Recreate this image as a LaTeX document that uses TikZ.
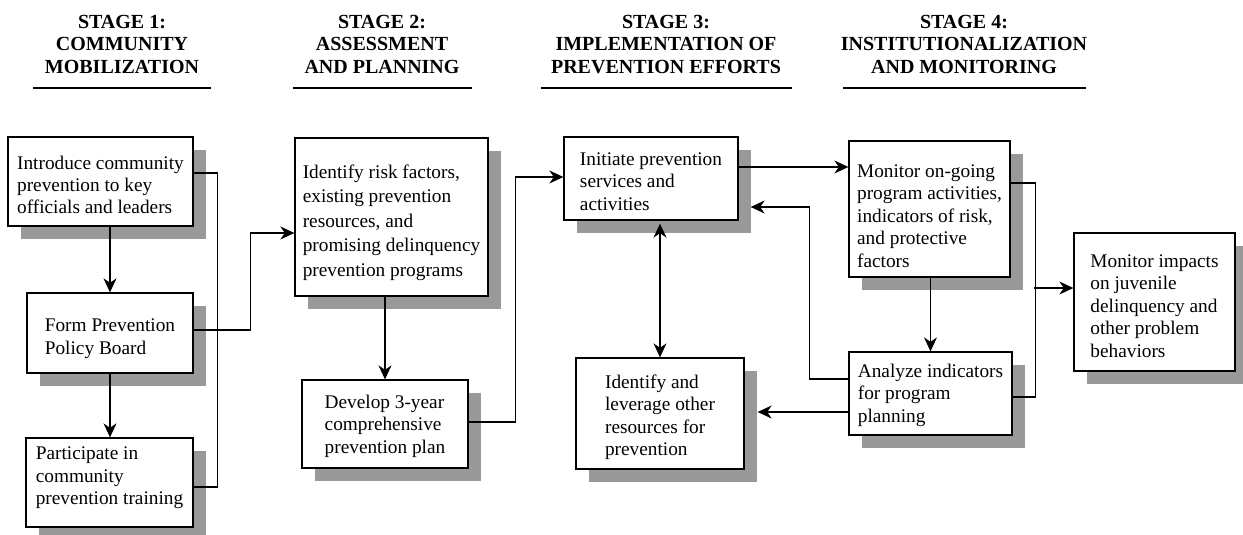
\documentclass[tikz,border=0pt]{standalone}
\usepackage{fontspec}
\setmainfont{Liberation Serif}
\usetikzlibrary{arrows.meta,calc}
\definecolor{shadowgray}{RGB}{153,153,153}
% push the text block of a box down (positive) or up (negative) by #1 pt
\newcommand{\dn}[1]{\rule{0pt}{\dimexpr 13.2pt+2\dimexpr #1pt\relax\relax}}
\newcommand{\upby}[1]{\rule[-\dimexpr 4.2pt+2\dimexpr #1pt\relax\relax]{0pt}{0pt}}
\begin{document}
\begin{tikzpicture}[x=1pt,y=-1pt,
  box/.style={draw=black, line width=1.3pt, fill=white, inner sep=0pt, align=left,
    font=\fontsize{19.3}{22.5}\selectfont,
    preaction={fill=shadowgray, draw=none, transform canvas={xshift=13pt,yshift=-13pt}}},
  head/.style={font=\fontsize{20}{22.5}\selectfont\bfseries, align=center, anchor=north, inner sep=0pt},
  conn/.style={line width=1.1pt},
  tip/.tip={Stealth[length=14pt,width=13pt,inset=4.5pt]},
  arr/.style={conn, -tip},
  darr/.style={conn, tip-tip},
]
\useasboundingbox (0,0) rectangle (1243,535);

% headers
\node[head] (h1) at (122,15) {STAGE 1:\\COMMUNITY\\MOBILIZATION};
\node[head] (h2) at (382,15) {STAGE 2:\\ASSESSMENT\\AND PLANNING};
\node[head] (h3) at (666,15) {STAGE 3:\\IMPLEMENTATION OF\\PREVENTION EFFORTS};
\node[head] (h4) at (964,15) {STAGE 4:\\INSTITUTIONALIZATION\\AND MONITORING};
\draw[conn] (33,88) -- (211,88);
\draw[conn] (293,88) -- (472,88);
\draw[conn] (541,88) -- (792,88);
\draw[conn] (843,88) -- (1086,88);

% boxes
\node[box, font=\fontsize{19.3}{22}\selectfont, minimum width=185pt, minimum height=89pt] (A) at (100.5,181.5) {\dn{3}Introduce community\\prevention to key\\officials and leaders};
\node[box, minimum width=166pt, minimum height=80pt] (B) at (110,333) {\dn{5.5}Form Prevention\\Policy Board};
\node[box, minimum width=167pt, minimum height=89pt] (C) at (109.5,482.5) {Participate in\\community\\prevention training\upby{4.5}};
\node[box, font=\fontsize{19.3}{24.5}\selectfont, minimum width=193pt, minimum height=158pt] (D) at (391.5,217) {\dn{5.5}Identify risk factors,\\existing prevention\\resources, and\\promising delinquency\\prevention programs};
\node[box, minimum width=166pt, minimum height=88pt] (E) at (385,424) {\dn{2}Develop 3-year\\comprehensive\\prevention plan};
\node[box, minimum width=174pt, minimum height=83pt] (F) at (651,178.5) {\dn{2.5}Initiate prevention\\services and\\activities};
\node[box, minimum width=168pt, minimum height=111pt] (G) at (660,413.5) {\dn{4}Identify and\\leverage other\\resources for\\prevention};
\node[box, minimum width=161pt, minimum height=136pt] (H) at (929.5,209) {\dn{6.5}Monitor on-going\\program activities,\\indicators of risk,\\and protective\\factors};
\node[box, minimum width=163pt, minimum height=83pt] (I) at (930.5,393.5) {\dn{1.5}Analyze indicators\\for program\\planning};
\node[box, minimum width=161pt, minimum height=138pt] (J) at (1154.5,302) {\dn{3.5}Monitor impacts\\on juvenile\\delinquency and\\other problem\\behaviors};

% stage 1 connectors
\draw[arr] (A.south -| B.north) -- (B.north);
\draw[arr] (B.south) -- (B.south |- C.north);
\draw[conn] ($(A.east)+(0,-8.5)$) -- ++(24,0) |- ($(C.east)+(0,4.5)$);
\draw[arr] ($(B.east)+(0,-3)$) -- ++(57,0) |- ($(D.west)+(0,16)$);

% stage 2 connectors
\draw[arr] (D.south -| E.north) -- (E.north);
\draw[arr] ($(E.east)+(0,-2)$) -- ++(47,0) |- ($(F.west)+(0,-1.5)$);

% stage 3 connectors
\draw[darr] ($(F.south -| G.north)+(0,3)$) -- (G.north);
\draw[arr] ($(F.east)+(0,-11.5)$) -- ($(H.west)+(0,-42)$);

% stage 4 connectors
\draw[arr] (H.south -| I.north) -- (I.north);
\draw[conn] ($(H.east)+(0,-26)$) -- ++(25,0) |- ($(I.east)+(0,3.5)$);
\draw[arr] ($(J.west)+(-39,-14)$) -- ($(J.west)+(0,-14)$);
\draw[arr] ($(I.west)+(0,-14.5)$) -- ++(-39,0) |- ($(F.east)+(12,28.5)$);
\draw[arr] ($(I.west)+(0,18.5)$) -- ($(G.east)+(13,-1.5)$);
\end{tikzpicture}
\end{document}
